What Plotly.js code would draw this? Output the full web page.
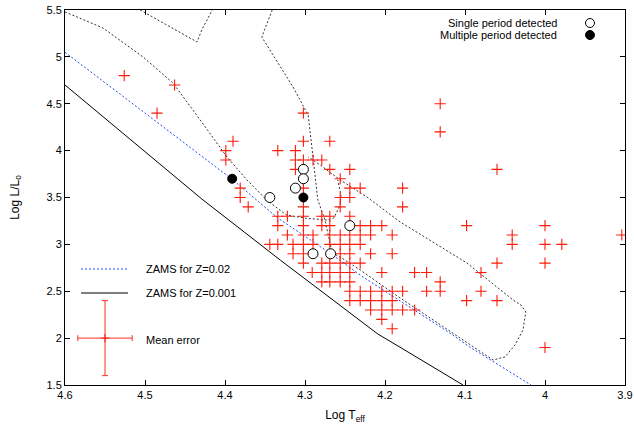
<!DOCTYPE html>
<html>
<head>
<meta charset="utf-8">
<script src="https://cdn.plot.ly/plotly-3.0.1.min.js"></script>
<style>html,body{margin:0;padding:0;background:#fff;}#chart{width:634px;height:430px;}</style>
</head>
<body>
<div id="chart"></div>
<script>
// ---- Stars (red pluses), listed row by row in Log L ----
const starTeff = [
  4.526,
  4.463,
  4.131,
  4.485, 4.302,
  4.131,
  4.390, 4.302, 4.269,
  4.399, 4.334, 4.312,
  4.399, 4.312, 4.302, 4.290, 4.279,
  4.312, 4.269, 4.244, 4.060,
  4.256,
  4.381, 4.302, 4.244, 4.231, 4.178,
  4.381, 4.256, 4.244,
  4.371, 4.302, 4.256, 4.178,
  4.334, 4.322, 4.302, 4.279, 4.269, 4.244,
  4.334, 4.302, 4.279, 4.269, 4.231, 4.218, 4.204, 4.098, 4.000,
  4.322, 4.302, 4.290, 4.269, 4.256, 4.244, 4.231, 4.218, 4.191, 4.041, 3.904,
  4.344, 4.334, 4.315, 4.302, 4.290, 4.269, 4.256, 4.244, 4.231, 4.041, 4.000, 3.979,
  4.315, 4.302, 4.256, 4.244, 4.218, 4.191,
  4.302, 4.279, 4.269, 4.256, 4.244, 4.231, 4.060, 4.000,
  4.291, 4.279, 4.269, 4.256, 4.244, 4.204, 4.163, 4.148, 4.080,
  4.279, 4.269, 4.256, 4.244, 4.131,
  4.244, 4.231, 4.218, 4.204, 4.191, 4.178, 4.148, 4.131, 4.080,
  4.244, 4.231, 4.218, 4.204, 4.191, 4.098, 4.060,
  4.218, 4.204, 4.191, 4.178, 4.163,
  4.204,
  4.191,
  4.000
];
const starLogL = [
  4.8,
  4.7,
  4.5,
  4.4, 4.4,
  4.2,
  4.1, 4.1, 4.1,
  4.0, 4.0, 4.0,
  3.9, 3.9, 3.9, 3.9, 3.9,
  3.8, 3.8, 3.8, 3.8,
  3.7,
  3.6, 3.6, 3.6, 3.6, 3.6,
  3.5, 3.5, 3.5,
  3.4, 3.4, 3.4, 3.4,
  3.3, 3.3, 3.3, 3.3, 3.3, 3.3,
  3.2, 3.2, 3.2, 3.2, 3.2, 3.2, 3.2, 3.2, 3.2,
  3.1, 3.1, 3.1, 3.1, 3.1, 3.1, 3.1, 3.1, 3.1, 3.1, 3.1,
  3.0, 3.0, 3.0, 3.0, 3.0, 3.0, 3.0, 3.0, 3.0, 3.0, 3.0, 3.0,
  2.9, 2.9, 2.9, 2.9, 2.9, 2.9,
  2.8, 2.8, 2.8, 2.8, 2.8, 2.8, 2.8, 2.8,
  2.7, 2.7, 2.7, 2.7, 2.7, 2.7, 2.7, 2.7, 2.7,
  2.6, 2.6, 2.6, 2.6, 2.6,
  2.5, 2.5, 2.5, 2.5, 2.5, 2.5, 2.5, 2.5, 2.5,
  2.4, 2.4, 2.4, 2.4, 2.4, 2.4, 2.4,
  2.3, 2.3, 2.3, 2.3, 2.3,
  2.2,
  2.1,
  1.9
];

// ---- Pulsators ----
const singleTeff = [4.302, 4.302, 4.312, 4.344, 4.244, 4.290, 4.268];
const singleLogL = [3.8, 3.7, 3.6, 3.5, 3.2, 2.9, 2.9];
const multiTeff = [4.391, 4.302];
const multiLogL = [3.7, 3.5];

// ---- Mean error ----
const errTeff = [4.55];
const errLogL = [2.0];
const errTeffSize = [0.034];
const errLogLSize = [0.4];

// ---- ZAMS lines ----
const zams002Teff = [4.600, 4.500, 4.390, 4.334, 4.269, 4.2275, 4.160, 4.119, 4.094, 4.0175];
const zams002LogL = [5.049, 4.401, 3.687, 3.281, 2.908, 2.652, 2.279, 2.055, 1.905, 1.500];
const zams0001Teff = [4.600, 4.429, 4.331, 4.209, 4.1775, 4.1025];
const zams0001LogL = [4.700, 3.484, 2.833, 2.044, 1.884, 1.500];

// ---- Dotted evolutionary tracks / strip boundaries ----
const trackATeff = [4.600, 4.5525, 4.5025, 4.465, 4.431, 4.3975, 4.3725, 4.348, 4.323, 4.298, 4.273, 4.264, 4.256, 4.255, 4.259];
const trackALogL = [5.480, 5.308, 4.999, 4.721, 4.327, 3.932, 3.687, 3.473, 3.313, 3.278, 3.260, 3.281, 3.420, 3.527, 3.687];
const trackBTeff = [4.506, 4.435, 4.429, 4.416];
const trackBLogL = [5.500, 5.159, 5.287, 5.500];
const trackCTeff = [4.341, 4.354, 4.315, 4.296, 4.290, 4.284, 4.275, 4.269, 4.266, 4.256, 4.231, 4.181, 4.131, 4.0975, 4.065, 4.050, 4.0375, 4.0275, 4.024, 4.030, 4.040, 4.0975, 4.181, 4.2225, 4.256, 4.281, 4.296];
const trackCLogL = [5.500, 5.212, 4.679, 4.380, 3.932, 3.473, 3.260, 3.047, 2.908, 2.865, 2.727, 2.428, 2.140, 1.948, 1.767, 1.799, 1.927, 2.087, 2.279, 2.353, 2.407, 2.801, 3.239, 3.505, 3.687, 3.847, 3.932];

const FONT = 'Liberation Sans, Arial, Helvetica, sans-serif';
const dotBlack = {color: '#333', width: 1, dash: '2px,2px'};

const traces = [
  {x: trackATeff, y: trackALogL, mode: 'lines', line: dotBlack, hoverinfo: 'skip'},
  {x: trackBTeff, y: trackBLogL, mode: 'lines', line: dotBlack, hoverinfo: 'skip'},
  {x: trackCTeff, y: trackCLogL, mode: 'lines', line: dotBlack, hoverinfo: 'skip'},
  {x: zams002Teff, y: zams002LogL, mode: 'lines', line: {color: '#2248ff', width: 1, dash: '2px,2px'}},
  {x: zams0001Teff, y: zams0001LogL, mode: 'lines', line: {color: '#000', width: 1}},
  {x: starTeff, y: starLogL, mode: 'markers',
   marker: {symbol: 'cross-thin', size: 8, line: {color: '#ff1a0a', width: 1.1}}},
  {x: errTeff, y: errLogL, mode: 'markers',
   marker: {symbol: 'cross-thin', size: 6, line: {color: '#ff1a0a', width: 1}},
   error_x: {type: 'data', array: errTeffSize, color: '#ff3020', thickness: 1, width: 3},
   error_y: {type: 'data', array: errLogLSize, color: '#ff3020', thickness: 1, width: 3}},
  {x: singleTeff, y: singleLogL, mode: 'markers',
   marker: {symbol: 'circle', size: 10, color: '#fff', line: {color: '#000', width: 1}}},
  {x: multiTeff, y: multiLogL, mode: 'markers',
   marker: {symbol: 'circle', size: 9, color: '#000', line: {color: '#000', width: 1}}}
];

const axisCommon = {
  showline: true, linecolor: '#000', linewidth: 1, mirror: 'ticks',
  ticks: 'inside', ticklen: 5, tickcolor: '#000', tickwidth: 1,
  showgrid: false, zeroline: false,
  tickfont: {family: FONT, size: 11, color: '#000'}
};

const layout = {
  width: 634, height: 430,
  margin: {l: 65, r: 9, t: 10, b: 45},
  paper_bgcolor: '#fff', plot_bgcolor: '#fff',
  showlegend: false,
  font: {family: FONT, size: 11, color: '#000'},
  xaxis: Object.assign({}, axisCommon, {
    range: [4.6, 3.9], autorange: false, tick0: 3.9, dtick: 0.1,
    title: {text: 'Log T<sub>eff</sub>', font: {family: FONT, size: 12}, standoff: 10}
  }),
  yaxis: Object.assign({}, axisCommon, {
    range: [1.5, 5.5], autorange: false, tick0: 1.5, dtick: 0.5,
    title: {text: 'Log L/L<sub>o</sub>', font: {family: FONT, size: 12}, standoff: 24}
  }),
  shapes: [
    {type: 'line', xref: 'paper', yref: 'paper', x0: 0.0286, x1: 0.1125, y0: 0.3093, y1: 0.3093,
     line: {color: '#2248ff', width: 1, dash: '2px,2px'}},
    {type: 'line', xref: 'paper', yref: 'paper', x0: 0.0286, x1: 0.1125, y0: 0.2453, y1: 0.2453,
     line: {color: '#000', width: 1}},
    {type: 'circle', xref: 'paper', yref: 'paper', x0: 0.9295, x1: 0.9455, y0: 0.9533, y1: 0.9773,
     line: {color: '#000', width: 1}, fillcolor: '#fff'},
    {type: 'circle', xref: 'paper', yref: 'paper', x0: 0.9295, x1: 0.9455, y0: 0.9213, y1: 0.9453,
     line: {color: '#000', width: 1}, fillcolor: '#000'}
  ],
  annotations: [
    {xref: 'paper', yref: 'paper', x: 0.141, y: 0.3093, xanchor: 'left', yanchor: 'middle',
     text: 'ZAMS for Z=0.02', showarrow: false, font: {family: FONT, size: 11}},
    {xref: 'paper', yref: 'paper', x: 0.141, y: 0.2453, xanchor: 'left', yanchor: 'middle',
     text: 'ZAMS for Z=0.001', showarrow: false, font: {family: FONT, size: 11}},
    {xref: 'paper', yref: 'paper', x: 0.141, y: 0.12, xanchor: 'left', yanchor: 'middle',
     text: 'Mean error', showarrow: false, font: {family: FONT, size: 11}},
    {xref: 'paper', yref: 'paper', x: 0.882, y: 0.9653, xanchor: 'right', yanchor: 'middle',
     text: 'Single period detected', showarrow: false, font: {family: FONT, size: 11}},
    {xref: 'paper', yref: 'paper', x: 0.882, y: 0.9333, xanchor: 'right', yanchor: 'middle',
     text: 'Multiple period detected', showarrow: false, font: {family: FONT, size: 11}}
  ]
};

Plotly.newPlot('chart', traces, layout, {staticPlot: true, displayModeBar: false});
</script>
</body>
</html>
